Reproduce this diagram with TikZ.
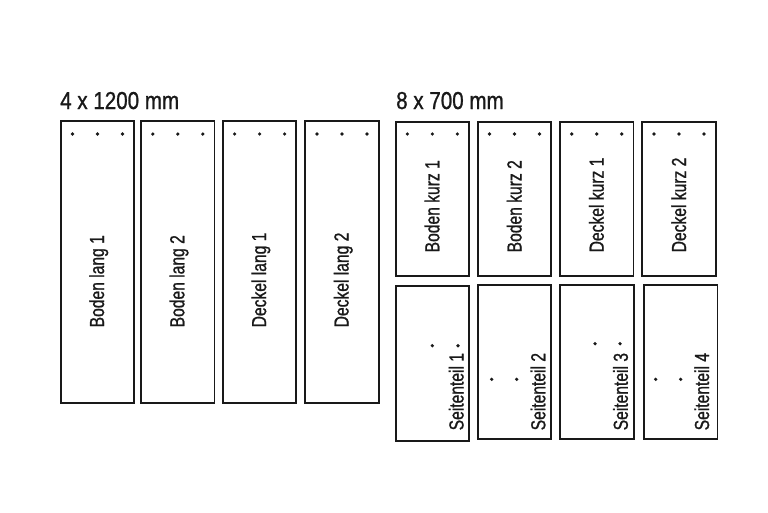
\documentclass[tikz,border=0pt]{standalone}
\usepackage{fontspec}
\newfontfamily\condlbl[FakeStretch=0.77,FakeBold=1]{Liberation Sans}
\newfontfamily\condttl[FakeStretch=0.84,FakeBold=1]{Liberation Sans}
\begin{document}
\begin{tikzpicture}[x=1pt,y=-1pt,
  board/.style={draw=black!90, line width=1.8pt, inner sep=0pt, minimum width=73.4pt},
  lbl/.style={rotate=90, anchor=base west, inner sep=0pt, font=\condlbl\fontsize{20.3}{21}\selectfont, text=black!90},
  ttl/.style={anchor=base west, inner sep=0pt, font=\condttl\fontsize{24.5}{26}\selectfont, text=black!90},
  hole/.style={fill=black!90}]
\useasboundingbox (0,0) rectangle (768,512);
% titles
\node[ttl] (t1) at (60,109) {4 x 1200 mm};
\node[ttl] (t2) at (396,109) {8 x 700 mm};
% long boards
\foreach \cx/\nm/\txt in {97.5/L1/Boden lang 1,177.8/L2/Boden lang 2,259.6/L3/Deckel lang 1,342/L4/Deckel lang 2}{
  \node[board, minimum height=281.4pt] (\nm) at (\cx,262) {};
  \node[lbl] (\nm t) at (\cx+6.5,327.5) {\txt};
  \foreach \d in {-25,0,25} \fill[hole] (\cx+\d,134) circle (1.8);
}
% short boards top
\foreach \cx/\nm/\txt in {432.3/K1/Boden kurz 1,514.5/K2/Boden kurz 2,596.7/K3/Deckel kurz 1,679/K4/Deckel kurz 2}{
  \node[board, minimum height=154pt] (\nm) at (\cx,199) {};
  \node[lbl] (\nm t) at (\cx+7,252.5) {\txt};
  \foreach \d in {-25,0,25} \fill[hole] (\cx+\d,134) circle (1.8);
}
% side boards
\node[board, minimum height=154.7pt] (S1) at (432.3,363.3) {};
\node[board, minimum height=154.3pt] (S2) at (514.5,361.8) {};
\node[board, minimum height=154.3pt] (S3) at (597,361.8) {};
\node[board, minimum height=154.3pt] (S4) at (680.8,361.8) {};
\node[lbl] (S1t) at (463.5,430.5) {Seitenteil 1};
\node[lbl] (S2t) at (545.3,430.5) {Seitenteil 2};
\node[lbl] (S3t) at (627.8,430.5) {Seitenteil 3};
\node[lbl] (S4t) at (709,430.5) {Seitenteil 4};
\fill[hole] (432.3,345.7) circle (1.8);
\fill[hole] (458,345.7) circle (1.8);
\fill[hole] (491.7,379.3) circle (1.8);
\fill[hole] (516.7,379.3) circle (1.8);
\fill[hole] (595,343.7) circle (1.8);
\fill[hole] (620,343.7) circle (1.8);
\fill[hole] (655.7,379.3) circle (1.8);
\fill[hole] (680.7,379.3) circle (1.8);
\end{tikzpicture}
\end{document}
